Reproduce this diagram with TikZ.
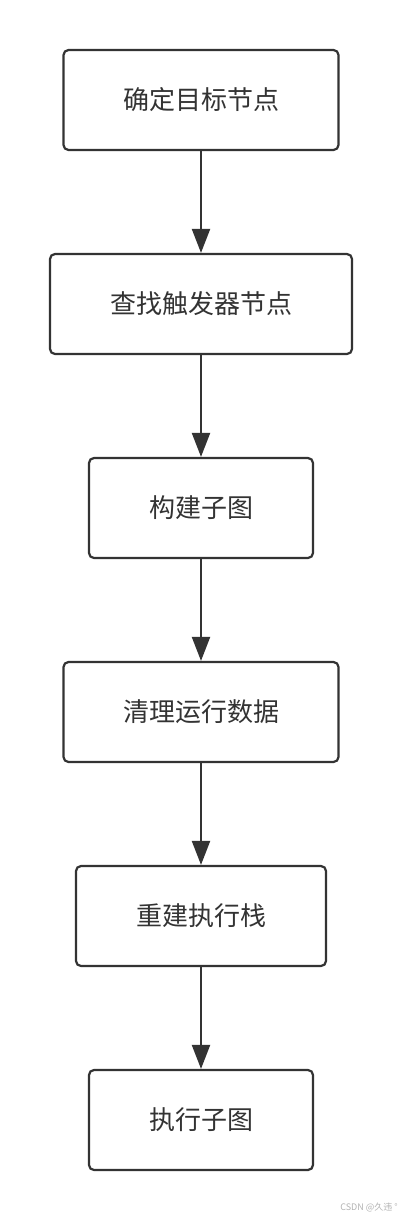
\documentclass[tikz,border=0pt]{standalone}
\usepackage{fontspec}
\newfontfamily\cjk{Noto Sans CJK SC}
\usetikzlibrary{arrows.meta}
\definecolor{ink}{HTML}{333333}
\tikzset{
  stepbox/.style={draw=ink, line width=2.2pt, rounded corners=5pt, fill=white, text=ink,
    minimum height=100pt, inner sep=0pt, font=\cjk\fontsize{26}{30}\selectfont},
  flow/.style={draw=ink, line width=2.2pt, -{Triangle[length=24pt,width=18pt]}}
}
\begin{document}
\begin{tikzpicture}[x=1pt,y=-1pt]
\useasboundingbox (0,0) rectangle (402,1220);
\node[stepbox, minimum width=275pt] (n1) at (201,100) {确定目标节点};
\node[stepbox, minimum width=302pt] (n2) at (201,304) {查找触发器节点};
\node[stepbox, minimum width=224pt] (n3) at (201,508) {构建子图};
\node[stepbox, minimum width=275pt] (n4) at (201,712) {清理运行数据};
\node[stepbox, minimum width=250pt] (n5) at (201,916) {重建执行栈};
\node[stepbox, minimum width=224pt] (n6) at (201,1120) {执行子图};
\draw[flow] (n1) -- (n2);
\draw[flow] (n2) -- (n3);
\draw[flow] (n3) -- (n4);
\draw[flow] (n4) -- (n5);
\draw[flow] (n5) -- (n6);
\node[text=black!30, font=\cjk\fontsize{9}{10}\selectfont, anchor=east, inner sep=0pt] (wm) at (398,1207) {CSDN @久违 °};
\end{tikzpicture}
\end{document}
